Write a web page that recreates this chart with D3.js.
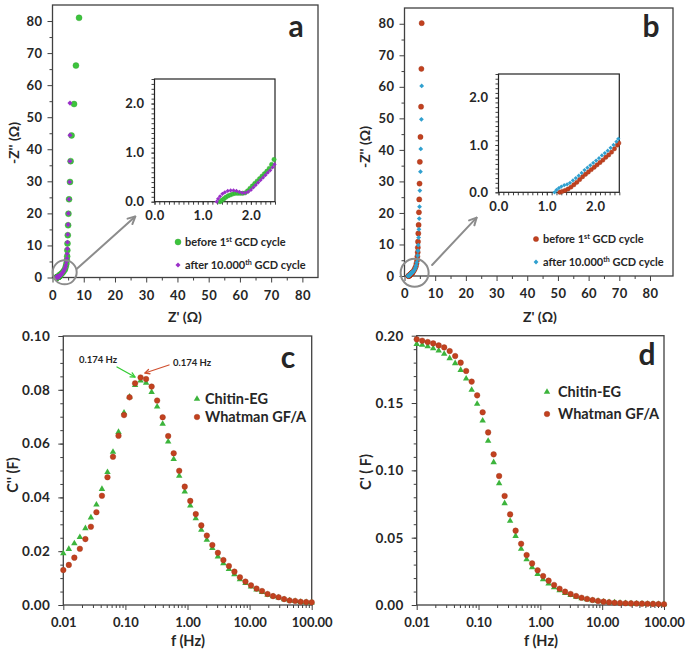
<!DOCTYPE html>
<html><head><meta charset="utf-8">
<script src="https://cdn.jsdelivr.net/npm/d3@7"></script>
<style>
body{margin:0;background:#fff}
svg{display:block}
text{font-family:Lato,"Open Sans",sans-serif;font-weight:bold;fill:#262626}
</style>
</head><body>
<svg id="chart" width="685" height="652"></svg>
<script>
// ---------------- DATA ----------------
// Panel a (Nyquist): green = before 1st GCD cycle, purple = after 10.000th GCD cycle
const aBeforeRe = [1.36,1.40,1.44,1.48,1.53,1.58,1.63,1.68,1.73,1.78,1.83,1.88,1.93,1.98,2.03,2.08,2.13,2.18,2.23,2.28,2.33,2.38,2.43,2.48,
  2.80,3.20,3.60,4.00,4.25,4.45,4.60,4.70,4.75,4.80,4.90,5.00,5.10,5.30,5.60,5.80,6.10,6.90,7.50,8.50];
const aBeforeIm = [0.00,0.03,0.06,0.09,0.12,0.14,0.16,0.17,0.17,0.17,0.17,0.18,0.22,0.27,0.32,0.37,0.42,0.47,0.52,0.57,0.62,0.68,0.76,0.86,
  1.10,1.50,2.00,2.60,3.40,4.30,5.40,6.60,8.50,10.6,13.2,16.3,19.9,24.4,29.8,36.3,44.3,54.1,66.1,81.0];
const aAfterRe = [1.29,1.32,1.36,1.41,1.46,1.52,1.58,1.64,1.70,1.76,1.82,1.88,1.94,2.00,2.05,2.10,2.15,2.20,2.25,2.30,2.35,2.40,2.45,2.49,
  2.80,3.10,3.50,3.80,4.10,4.30,4.50,4.60,4.70,4.75,4.80,4.90,5.00,5.10,5.30,5.50,5.60,5.60,5.60];
const aAfterIm = [0.00,0.06,0.11,0.16,0.19,0.22,0.23,0.23,0.22,0.20,0.18,0.18,0.20,0.24,0.29,0.34,0.39,0.44,0.49,0.54,0.59,0.64,0.70,0.76,
  1.00,1.40,1.90,2.50,3.10,3.90,4.90,6.00,7.40,9.00,11.0,13.4,16.5,20.0,24.4,29.8,36.3,44.4,54.4];
// Panel b (Nyquist): red = before, blue = after
const bBeforeRe = [1.27,1.32,1.38,1.44,1.50,1.56,1.62,1.68,1.74,1.80,1.86,1.92,1.98,2.04,2.10,2.16,2.22,2.28,2.34,2.40,2.46,2.49,
  2.80,3.10,3.40,3.70,3.90,4.10,4.20,4.30,4.35,4.40,4.50,4.60,4.70,4.80,4.90,5.00,5.20,5.40,5.50,5.60];
const bBeforeIm = [0.00,0.02,0.04,0.07,0.11,0.16,0.21,0.27,0.33,0.38,0.43,0.48,0.53,0.58,0.63,0.68,0.74,0.79,0.85,0.92,1.00,1.04,
  1.35,1.80,2.40,3.10,4.00,5.00,6.20,7.50,9.00,10.9,13.5,16.2,20.2,24.3,29.3,36.2,44.1,53.7,65.7,80.2];
const bAfterRe = [1.16,1.20,1.25,1.30,1.36,1.42,1.48,1.54,1.60,1.66,1.72,1.78,1.84,1.90,1.96,2.02,2.08,2.14,2.20,2.26,2.32,2.38,2.44,2.48,
  2.70,3.00,3.30,3.60,3.80,4.00,4.20,4.30,4.40,4.50,4.60,4.70,4.80,4.90,5.00,5.20,5.30,5.50,5.60];
const bAfterIm = [0.00,0.05,0.09,0.12,0.15,0.17,0.20,0.25,0.30,0.35,0.41,0.47,0.52,0.57,0.62,0.67,0.72,0.78,0.83,0.88,0.94,1.00,1.07,1.13,
  1.25,1.60,2.10,2.70,3.40,4.30,5.30,6.50,8.00,9.80,12.2,14.8,18.2,22.0,27.1,33.1,40.3,49.7,60.3];

// Panels c, d: frequency (Hz)
const freq = [0.0100,0.01227,0.01506,0.01848,0.02268,0.02783,0.03415,0.04192,0.05144,0.0631,
  0.07743,0.09502,0.1166,0.1431,0.1756,0.2154,0.2644,0.3244,0.3981,0.4886,
  0.5995,0.7356,0.9027,1.108,1.359,1.668,2.047,2.512,3.083,3.783,
  4.642,5.696,6.990,8.577,10.53,12.92,15.85,19.45,23.87,29.29,
  35.94,44.10,54.12,66.41,81.49,100.0];
const cChitin = [0.0192,0.0208,0.0229,0.0252,0.0285,0.0325,0.0373,0.0431,0.0494,0.0569,
  0.0643,0.0715,0.0774,0.0817,0.0834,0.0826,0.0791,0.0737,0.0673,0.0607,
  0.0542,0.0480,0.0421,0.0369,0.0322,0.0279,0.0242,0.0211,0.0180,0.0155,
  0.0133,0.0114,0.0095,0.0081,0.0068,0.0057,0.0048,0.0038,0.0032,0.0027,
  0.0021,0.0017,0.0014,0.0011,0.0010,0.0009];
const cWhatman = [0.0130,0.0149,0.0176,0.0209,0.0245,0.0291,0.0345,0.0406,0.0475,0.0551,
  0.0629,0.0706,0.0772,0.0824,0.0846,0.0840,0.0812,0.0760,0.0698,0.0628,
  0.0564,0.0499,0.0440,0.0387,0.0338,0.0296,0.0258,0.0223,0.0194,0.0167,
  0.0145,0.0124,0.0103,0.0087,0.0073,0.0061,0.0052,0.0041,0.0033,0.0029,
  0.0022,0.0017,0.0015,0.0012,0.0011,0.0010];
const dChitin = [0.1938,0.1931,0.1921,0.1906,0.1889,0.1864,0.1832,0.1795,0.1745,0.1681,
  0.1597,0.1493,0.1369,0.1218,0.1060,0.0904,0.0755,0.0624,0.0512,0.0416,
  0.0339,0.0280,0.0230,0.0191,0.0158,0.0131,0.0109,0.0089,0.0074,0.0061,
  0.0049,0.0042,0.0034,0.0030,0.0025,0.0021,0.0018,0.0015,0.0013,0.0011,
  0.0010,0.0009,0.0008,0.0007,0.0006,0.0005];
const dWhatman = [0.1973,0.1963,0.1953,0.1943,0.1928,0.1913,0.1886,0.1849,0.1800,0.1738,
  0.1659,0.1557,0.1431,0.1282,0.1119,0.0958,0.0810,0.0673,0.0552,0.0455,
  0.0371,0.0309,0.0258,0.0215,0.0181,0.0149,0.0121,0.0099,0.0082,0.0067,
  0.0054,0.0045,0.0037,0.0030,0.0025,0.0020,0.0017,0.0015,0.0013,0.0012,
  0.0011,0.0010,0.0009,0.0008,0.0007,0.0006];

// ticks & labels
const nyqTicks = [0,10,20,30,40,50,60,70,80];
const insetTicks = [0,1,2];
const freqTicks = [0.01,0.1,1,10,100];
const freqTickLabels = ["0.01","0.10","1.00","10.00","100.00"];
const cTicks = [0,0.02,0.04,0.06,0.08,0.10];
const dTicks = [0,0.05,0.10,0.15,0.20];
const legendCap = ["Chitin-EG","Whatman GF/A"];

// colours
const GREEN_A = "#3cc43c", PURPLE = "#9a2fc8", RED = "#c2411f", BLUE = "#30a0cf", GREEN_C = "#3cb43c";
const AX = "#404040";

const svg = d3.select("#chart");

function zip(a, b) { return a.map((v, i) => [v, b[i]]); }

function styleAxis(g, fs, ls) {
  g.select(".domain").remove();
  g.selectAll(".tick line").attr("stroke", AX).attr("stroke-width", 1);
  g.selectAll(".tick text").attr("font-size", fs).attr("fill", "#262626")
    .style("letter-spacing", (ls || 0) + "px")
    .style("font-family", "Lato, 'Open Sans', sans-serif").style("font-weight", "bold");
}

function axesBox(x, y, o) {
  const [x0, x1] = x.range(), [y0, y1] = y.range();
  const gbm = svg.append("g").attr("transform", `translate(0,${y0})`)
    .call(d3.axisBottom(x).tickValues(o.xMinor).tickSize(o.minorLen).tickFormat("").tickSizeOuter(0));
  styleAxis(gbm, o.fs);
  const glm = svg.append("g").attr("transform", `translate(${x0},0)`)
    .call(d3.axisLeft(y).tickValues(o.yMinor).tickSize(o.minorLen).tickFormat("").tickSizeOuter(0));
  styleAxis(glm, o.fs);
  const gb = svg.append("g").attr("transform", `translate(0,${y0})`)
    .call(d3.axisBottom(x).tickValues(o.xTicks).tickSize(o.majorLen).tickPadding(o.xPad).tickFormat(o.xFmt).tickSizeOuter(0));
  styleAxis(gb, o.fsx || o.fs, o.lsx);
  const gl = svg.append("g").attr("transform", `translate(${x0},0)`)
    .call(d3.axisLeft(y).tickValues(o.yTicks).tickSize(o.majorLen).tickPadding(o.yPad).tickFormat(o.yFmt).tickSizeOuter(0));
  styleAxis(gl, o.fs, o.ls);
  svg.append("rect").attr("x", x0).attr("y", y1).attr("width", x1 - x0).attr("height", y0 - y1)
    .attr("fill", "none").attr("stroke", o.frame || AX).attr("stroke-width", o.frameW || 1.3);
}

function circles(data, x, y, r, color) {
  svg.append("g").selectAll("circle").data(data).join("circle")
    .attr("cx", d => x(d[0])).attr("cy", d => y(d[1])).attr("r", r)
    .attr("fill", color).attr("stroke", d3.color(color).darker(0.6)).attr("stroke-width", 0.4);
}
function diamonds(data, x, y, s, color) {
  svg.append("g").selectAll("path").data(data).join("path")
    .attr("d", d3.symbol(d3.symbolSquare, s * s))
    .attr("transform", d => `translate(${x(d[0])},${y(d[1])}) rotate(45)`)
    .attr("fill", color);
}
function triangles(data, x, y, size, color) {
  svg.append("g").selectAll("path").data(data).join("path")
    .attr("d", d3.symbol(d3.symbolTriangle, size))
    .attr("transform", d => `translate(${x(d[0])},${y(d[1])})`)
    .attr("fill", color);
}
function inDomain(data, x, y) {
  const [a, b] = x.domain(), [c, d] = y.domain();
  return data.filter(p => p[0] >= a && p[0] <= b && p[1] >= c && p[1] <= d);
}
function label(txt, xx, yy, fs, opts = {}) {
  const t = svg.append("text").attr("x", xx).attr("y", yy).attr("font-size", fs).text(txt);
  if (opts.anchor) t.attr("text-anchor", opts.anchor);
  if (opts.rotate) t.attr("transform", `rotate(-90,${xx},${yy})`);
  if (opts.fill) t.attr("fill", opts.fill);
  return t;
}
function legendSup(xx, yy, base, sup, rest, fs) {
  const t = svg.append("text").attr("x", xx).attr("y", yy).attr("font-size", fs);
  t.append("tspan").text(base);
  t.append("tspan").attr("font-size", fs * 0.65).attr("dy", -fs * 0.38).text(sup);
  t.append("tspan").attr("dy", fs * 0.38).text(" " + rest);
}
function arrow(x1, y1, x2, y2, color, w, head) {
  svg.append("line").attr("x1", x1).attr("y1", y1).attr("x2", x2).attr("y2", y2)
    .attr("stroke", color).attr("stroke-width", w).attr("stroke-linecap", "round");
  const ang = Math.atan2(y2 - y1, x2 - x1);
  const a1 = ang + Math.PI * 0.85, a2 = ang - Math.PI * 0.85;
  svg.append("path")
    .attr("d", `M${x2 + head * Math.cos(a1)},${y2 + head * Math.sin(a1)} L${x2},${y2} L${x2 + head * Math.cos(a2)},${y2 + head * Math.sin(a2)}`)
    .attr("fill", "none").attr("stroke", color).attr("stroke-width", w).attr("stroke-linecap", "round").attr("stroke-linejoin", "round");
}

const nyqMinor = d3.range(5, 85, 10);
const insetMinor = d3.range(0, 2.51, 0.1);
const fmt1 = d => d3.format(".1f")(d);

// ---------------- PANEL A ----------------
{
  const x = d3.scaleLinear().domain([0, 85]).range([52.5, 318]);
  const y = d3.scaleLinear().domain([0, 85]).range([277.5, 5]);
  axesBox(x, y, {xTicks: nyqTicks, yTicks: nyqTicks, xMinor: nyqMinor, yMinor: nyqMinor,
    majorLen: 5, minorLen: 3, xPad: 8, yPad: 5, fs: 13, ls: 0.4, lsx: 0.4, xFmt: d => d, yFmt: d => d});
  circles(zip(aBeforeRe, aBeforeIm), x, y, 3, GREEN_A);
  diamonds(zip(aAfterRe, aAfterIm), x, y, 3.6, PURPLE);
  svg.append("circle").attr("cx", x(3.9)).attr("cy", y(1.6)).attr("r", 12)
    .attr("fill", "none").attr("stroke", "#8c8c8c").attr("stroke-width", 2);
  arrow(x(7.8), y(2.7), x(26.5), y(19), "#8c8c8c", 2, 8);
  label("Z' (Ω)", 185, 322, 14, {anchor: "middle"});
  label("-Z'' (Ω)", 19, 143, 14, {anchor: "middle", rotate: true});
  label("a", 296, 37, 30, {anchor: "middle", fill: "#111"});
  const xi = d3.scaleLinear().domain([0, 2.5]).range([154.5, 275]);
  const yi = d3.scaleLinear().domain([0, 2.5]).range([201.7, 79]);
  axesBox(xi, yi, {xTicks: insetTicks, yTicks: insetTicks, xMinor: insetMinor, yMinor: insetMinor,
    majorLen: 3, minorLen: 3, xPad: 6, yPad: 7, fs: 13, ls: 0.4, lsx: 0.4, xFmt: fmt1, yFmt: fmt1, frame: "#222", frameW: 1.2});
  circles(inDomain(zip(aBeforeRe, aBeforeIm), xi, yi), xi, yi, 2.2, GREEN_A);
  diamonds(inDomain(zip(aAfterRe, aAfterIm), xi, yi), xi, yi, 3, PURPLE);
  circles([[0, 0]], v => 178, v => 242, 3, GREEN_A);
  legendSup(185, 246, "before 1", "st", "GCD cycle", 11);
  diamonds([[0, 0]], v => 178, v => 265, 3.6, PURPLE);
  legendSup(185, 269, "after 10.000", "th", "GCD cycle", 11);
}

// ---------------- PANEL B ----------------
{
  const x = d3.scaleLinear().domain([0, 87.5]).range([404.5, 673]);
  const y = d3.scaleLinear().domain([0, 85]).range([276, 8]);
  axesBox(x, y, {xTicks: nyqTicks, yTicks: nyqTicks, xMinor: nyqMinor, yMinor: nyqMinor,
    majorLen: 5, minorLen: 3, xPad: 8, yPad: 5, fs: 13, ls: 0.4, lsx: 0.4, xFmt: d => d, yFmt: d => d});
  circles(zip(bBeforeRe, bBeforeIm), x, y, 2.6, RED);
  diamonds(zip(bAfterRe, bAfterIm), x, y, 3.4, BLUE);
  svg.append("circle").attr("cx", x(3.3)).attr("cy", y(1.0)).attr("r", 14)
    .attr("fill", "none").attr("stroke", "#8c8c8c").attr("stroke-width", 2);
  arrow(x(9), y(3.5), x(23.5), y(18.5), "#8c8c8c", 2, 8);
  label("Z' (Ω)", 540, 322, 14, {anchor: "middle"});
  label("-Z'' (Ω)", 370, 147, 14, {anchor: "middle", rotate: true});
  label("b", 651, 37, 30, {anchor: "middle", fill: "#111"});
  const xi = d3.scaleLinear().domain([0, 2.5]).range([498.5, 619.3]);
  const yi = d3.scaleLinear().domain([0, 2.5]).range([192.3, 74]);
  axesBox(xi, yi, {xTicks: insetTicks, yTicks: insetTicks, xMinor: insetMinor, yMinor: insetMinor,
    majorLen: 3, minorLen: 3, xPad: 6, yPad: 7, fs: 13, ls: 0.4, lsx: 0.4, xFmt: fmt1, yFmt: fmt1, frame: "#222", frameW: 1.2});
  circles(inDomain(zip(bBeforeRe, bBeforeIm), xi, yi), xi, yi, 2.2, RED);
  diamonds(inDomain(zip(bAfterRe, bAfterIm), xi, yi), xi, yi, 3, BLUE);
  circles([[0, 0]], v => 536, v => 239, 2.6, RED);
  legendSup(543, 243, "before 1", "st", "GCD cycle", 11);
  diamonds([[0, 0]], v => 536, v => 262, 3.4, BLUE);
  legendSup(543, 266, "after 10.000", "th", "GCD cycle", 11);
}

// ---------------- PANEL C / D ----------------
function freqPanel(xr, yr, ydom, yTicks, yMinor, chit, what, o) {
  const x = d3.scaleLog().domain([0.01, 100]).range(xr);
  const y = d3.scaleLinear().domain(ydom).range(yr);
  const minor = [];
  [0.01, 0.1, 1, 10].forEach(dec => { for (let k = 2; k <= 9; k++) minor.push(dec * k); });
  axesBox(x, y, {xTicks: freqTicks, yTicks: yTicks, xMinor: minor, yMinor: yMinor,
    majorLen: 5, minorLen: 3, xPad: 8, yPad: 8, fs: 13.5, ls: 0.4, fsx: 13, lsx: 0,
    xFmt: (d, i) => freqTickLabels[i], yFmt: o.yFmt});
  triangles(zip(freq, chit), x, y, 18, GREEN_C);
  circles(zip(freq, what), x, y, 2.8, RED);
  return {x, y};
}

{
  freqPanel([63.3, 311.7], [605, 336], [0, 0.10], cTicks, d3.range(0.005, 0.1, 0.005),
    cChitin, cWhatman, {yFmt: d3.format(".2f")});
  label("C'' (F)", 18, 475, 14.5, {anchor: "middle", rotate: true});
  label("f (Hz)", 188, 646, 14.5, {anchor: "middle"});
  label("c", 288, 368, 30, {anchor: "middle", fill: "#111"});
  triangles([[0, 0]], v => 197, v => 399, 18, GREEN_C);
  label(legendCap[0], 205, 404, 14.5);
  circles([[0, 0]], v => 197, v => 417, 2.8, RED);
  label(legendCap[1], 205, 422, 14.5);
  label("0.174 Hz", 79, 363, 9.5);
  label("0.174 Hz", 173, 366, 9.5);
  arrow(117, 367, 135, 377, "#33cc33", 1.3, 5);
  arrow(169, 365, 145, 373, "#d05030", 1.3, 5);
}
{
  freqPanel([416.7, 664], [605, 335.7], [0, 0.20], dTicks, d3.range(0.01, 0.2, 0.01),
    dChitin, dWhatman, {yFmt: d3.format(".2f")});
  label("C' ( F)", 371, 472, 14.5, {anchor: "middle", rotate: true});
  label("f (Hz)", 541, 646, 14.5, {anchor: "middle"});
  label("d", 647, 365, 30, {anchor: "middle", fill: "#111"});
  triangles([[0, 0]], v => 547, v => 392, 18, GREEN_C);
  label(legendCap[0], 558, 397, 14.5);
  circles([[0, 0]], v => 547, v => 414, 2.8, RED);
  label(legendCap[1], 558, 419, 14.5);
}
</script>
</body></html>
